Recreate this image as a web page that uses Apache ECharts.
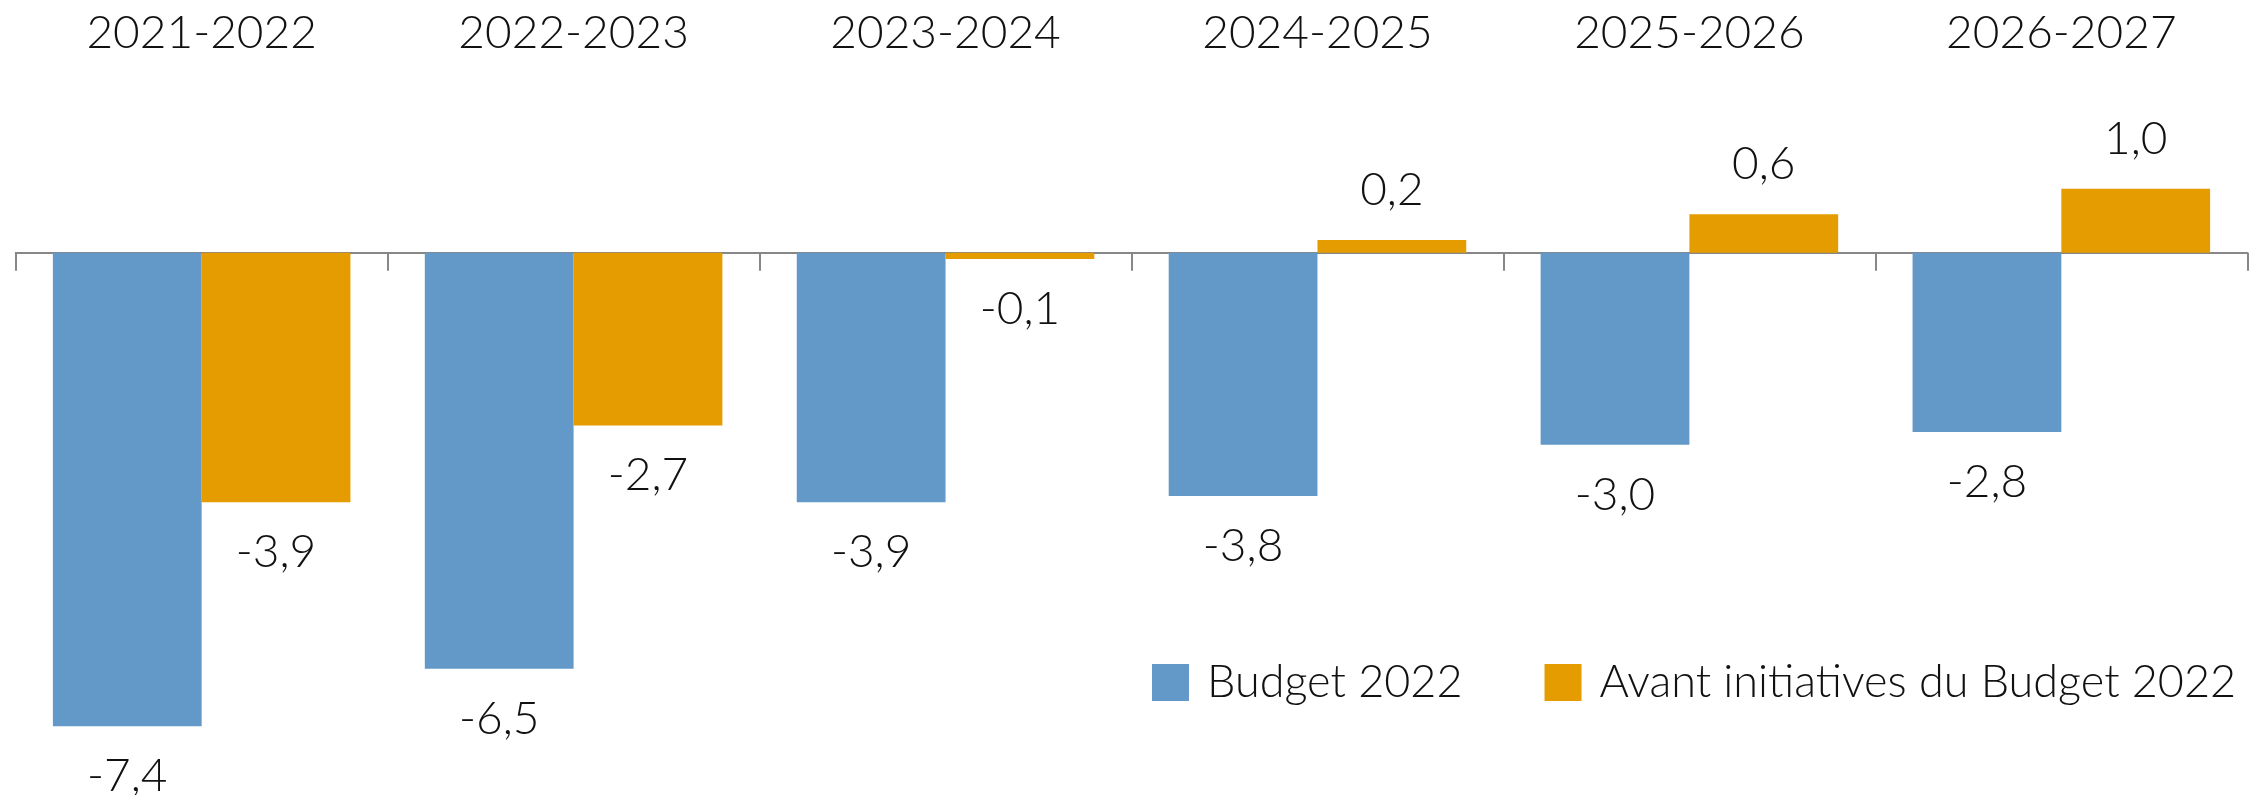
<!DOCTYPE html>
<html>
<head>
<meta charset="utf-8">
<script src="https://cdn.jsdelivr.net/npm/echarts@6/dist/echarts.min.js"></script>
<style>
  html, body { margin: 0; padding: 0; background: #fff; }
  #chart { width: 2259px; height: 795px; }
</style>
</head>
<body>
<div id="chart"></div>
<script>
// Solde budgétaire par exercice (en milliards de dollars)
const categories = ['2021-2022', '2022-2023', '2023-2024', '2024-2025', '2025-2026', '2026-2027'];
const budget2022 = [-7.4, -6.5, -3.9, -3.8, -3.0, -2.8];
const avantInitiatives = [-3.9, -2.7, -0.1, 0.2, 0.6, 1.0];
const seriesNames = ['Budget 2022', 'Avant initiatives du Budget 2022'];

const FONT = 'Lato, "Open Sans", sans-serif';
const TEXT_COLOR = '#111111';

// Decimal comma, one digit
const fmt = v => v.toFixed(1).replace('.', ',');

const chart = echarts.init(document.getElementById('chart'), null, { renderer: 'canvas' });

function barSeries(name, values, color) {
  return {
    name: name,
    type: 'bar',
    xAxisIndex: 0,
    data: values,
    barGap: '0%',
    barCategoryGap: '20%',
    itemStyle: { color: color },
    label: {
      show: true,
      position: 'outside',
      distance: 27,
      color: TEXT_COLOR,
      fontFamily: FONT,
      fontWeight: 300,
      fontSize: 46,
      formatter: p => fmt(p.value)
    },
    emphasis: { disabled: true }
  };
}

chart.setOption({
  animation: false,
  backgroundColor: '#ffffff',
  grid: { left: 15.7, right: 11.7, top: 156.7, bottom: 30.3, containLabel: false },
  legend: {
    left: 1147,
    top: 655,
    width: 1400,
    itemWidth: 37,
    itemHeight: 37,
    itemGap: 82,
    icon: 'rect',
    textStyle: {
      color: TEXT_COLOR,
      fontFamily: FONT,
      fontWeight: 300,
      fontSize: 45,
      padding: [0, 0, 0, 13]
    },
    data: seriesNames
  },
  xAxis: [
    {
      // Zero line with downward ticks between categories
      type: 'category',
      data: categories,
      position: 'bottom',
      axisLine: { show: true, onZero: true, lineStyle: { color: '#878787', width: 2 } },
      axisTick: { show: true, length: 18, lineStyle: { color: '#878787', width: 2 } },
      axisLabel: { show: false }
    },
    {
      // Category labels across the top
      type: 'category',
      data: categories,
      position: 'top',
      axisLine: { show: false, onZero: false },
      axisTick: { show: false },
      axisLabel: {
        show: true,
        margin: 101,
        color: TEXT_COLOR,
        fontFamily: FONT,
        fontWeight: 300,
        fontSize: 46
      }
    }
  ],
  yAxis: {
    type: 'value',
    min: -8,
    max: 1.5,
    show: false,
    splitLine: { show: false }
  },
  series: [
    barSeries(seriesNames[0], budget2022, '#6399C8'),
    barSeries(seriesNames[1], avantInitiatives, '#E59C00')
  ]
});
</script>
</body>
</html>
